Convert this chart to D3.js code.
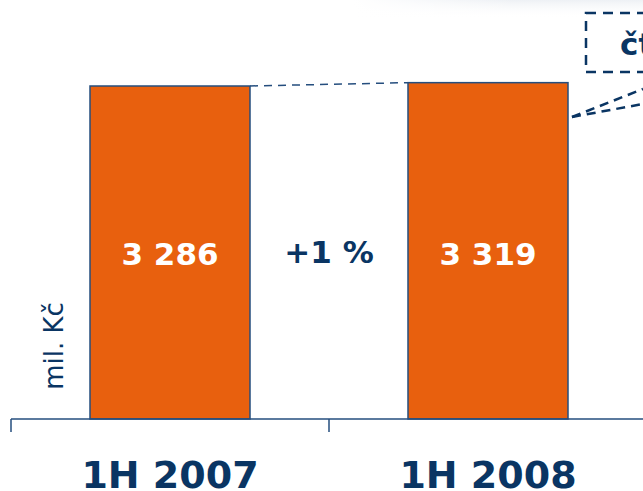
<!DOCTYPE html>
<html>
<head>
<meta charset="utf-8">
<script src="https://cdn.jsdelivr.net/npm/d3@7"></script>
<style>
  body { margin: 0; background: #fff; }
  svg { display: block; font-family: "DejaVu Sans", Verdana, sans-serif; }
</style>
</head>
<body>
<svg id="chart" width="643" height="491"></svg>
<script>
// data
const categories = ["1H 2007", "1H 2008", "next"];
const values = [3286, 3319];
const valueLabels = ["3 286", "3 319"];
const changeLabel = "+1 %";
const unitLabel = "mil. Kč";
const boxLabel = "čtvrtletí";

const orange = "#E8600E";
const navy = "#0A3563";
const lineNavy = "#254E7E";

const svg = d3.select("#chart");

// faint header shading top right
const defs = svg.append("defs");
const grad = defs.append("linearGradient")
    .attr("id", "topShade")
    .attr("x1", 0).attr("y1", 0).attr("x2", 0).attr("y2", 1);
grad.append("stop").attr("offset", "0%").attr("stop-color", "#dfe5ec").attr("stop-opacity", 0.9);
grad.append("stop").attr("offset", "100%").attr("stop-color", "#ffffff").attr("stop-opacity", 0);
const fade = defs.append("linearGradient")
    .attr("id", "sideFade")
    .attr("x1", 0).attr("y1", 0).attr("x2", 1).attr("y2", 0);
fade.append("stop").attr("offset", "0%").attr("stop-color", "#fff").attr("stop-opacity", 1);
fade.append("stop").attr("offset", "55%").attr("stop-color", "#fff").attr("stop-opacity", 1);
fade.append("stop").attr("offset", "80%").attr("stop-color", "#fff").attr("stop-opacity", 0);
fade.append("stop").attr("offset", "100%").attr("stop-color", "#fff").attr("stop-opacity", 0);

svg.append("rect")
    .attr("x", 0).attr("y", 0).attr("width", 643).attr("height", 18)
    .attr("fill", "url(#topShade)")
    .attr("opacity", 0.6);
svg.append("rect")
    .attr("x", 0).attr("y", 0).attr("width", 643).attr("height", 18)
    .attr("fill", "url(#sideFade)");

// scales
const x = d3.scaleBand()
    .domain(categories)
    .range([11, 965])
    .paddingInner(0)
    .paddingOuter(0);

const y = d3.scaleLinear()
    .domain([0, 3286])
    .range([419, 86]);

const barW = 160;
const barX = function (i) { return x(categories[i]) + (x.bandwidth() - barW) / 2; };

// bars
svg.append("g")
    .selectAll("rect")
    .data(values)
    .enter()
    .append("rect")
    .attr("x", function (d, i) { return barX(i); })
    .attr("y", function (d) { return y(d); })
    .attr("width", barW)
    .attr("height", function (d) { return y(0) - y(d); })
    .attr("fill", orange)
    .attr("stroke", lineNavy)
    .attr("stroke-width", 1.5);

// dashed link between bar tops
svg.append("line")
    .attr("x1", barX(0) + barW)
    .attr("y1", y(values[0]))
    .attr("x2", barX(1))
    .attr("y2", y(values[1]))
    .attr("stroke", lineNavy)
    .attr("stroke-width", 1.5)
    .attr("stroke-dasharray", "8,6");

// axis
const axisY = y(0);
svg.append("line")
    .attr("x1", x(categories[0])).attr("x2", 643)
    .attr("y1", axisY).attr("y2", axisY)
    .attr("stroke", lineNavy)
    .attr("stroke-width", 1.5);

svg.append("g")
    .selectAll("line")
    .data(categories)
    .enter()
    .append("line")
    .attr("x1", function (d) { return x(d); })
    .attr("x2", function (d) { return x(d); })
    .attr("y1", axisY)
    .attr("y2", axisY + 13)
    .attr("stroke", lineNavy)
    .attr("stroke-width", 1.5);

// category labels
svg.append("g")
    .selectAll("text")
    .data(categories.slice(0, 2))
    .enter()
    .append("text")
    .attr("x", function (d) { return x(d) + x.bandwidth() / 2; })
    .attr("y", 488)
    .attr("text-anchor", "middle")
    .attr("font-size", 38)
    .attr("font-weight", "bold")
    .attr("fill", navy)
    .text(function (d) { return d; });

// value labels
svg.append("g")
    .selectAll("text")
    .data(valueLabels)
    .enter()
    .append("text")
    .attr("x", function (d, i) { return barX(i) + barW / 2; })
    .attr("y", 265)
    .attr("text-anchor", "middle")
    .attr("font-size", 31)
    .attr("font-weight", "bold")
    .attr("fill", "#fff")
    .text(function (d) { return d; });

// change label
svg.append("text")
    .attr("x", x(categories[1]))
    .attr("y", 263)
    .attr("text-anchor", "middle")
    .attr("font-size", 31)
    .attr("font-weight", "bold")
    .attr("fill", navy)
    .text(changeLabel);

// unit label
svg.append("text")
    .attr("transform", "translate(63,346) rotate(-90)")
    .attr("text-anchor", "middle")
    .attr("font-size", 26)
    .attr("fill", navy)
    .text(unitLabel);

// callout box top right
svg.append("rect")
    .attr("x", 586).attr("y", 13)
    .attr("width", 120).attr("height", 59)
    .attr("fill", "none")
    .attr("stroke", navy)
    .attr("stroke-width", 2.5)
    .attr("stroke-dasharray", "10,7");

svg.append("text")
    .attr("x", 620)
    .attr("y", 55)
    .attr("font-size", 31)
    .attr("font-weight", "bold")
    .attr("fill", navy)
    .text(boxLabel);

// callout lines from bar 2
const cx = barX(1) + barW + 4;
const cy = 117;
[[643, 89], [643, 104]].forEach(function (p) {
    svg.append("line")
        .attr("x1", cx).attr("y1", cy)
        .attr("x2", p[0]).attr("y2", p[1])
        .attr("stroke", navy)
        .attr("stroke-width", 2.5)
        .attr("stroke-dasharray", "9,6");
});
</script>
</body>
</html>
